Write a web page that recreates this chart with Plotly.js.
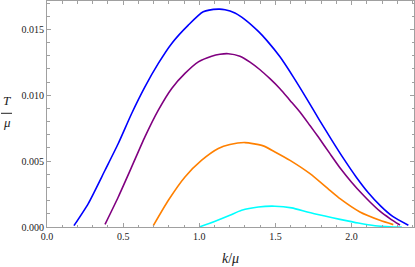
<!DOCTYPE html>
<html>
<head>
<meta charset="utf-8">
<script src="https://cdn.plot.ly/plotly-3.0.1.min.js"></script>
<style>html,body{margin:0;padding:0;background:#fff;}#chart{width:415px;height:267px;}</style>
</head>
<body>
<div id="chart"></div>
<script>
const kBlue = [0.177, 0.271, 0.381, 0.468, 0.556, 0.643, 0.731, 0.819, 0.928, 1.026, 1.125, 1.169, 1.234, 1.300, 1.388, 1.443, 1.530, 1.617, 1.705, 1.790, 1.870, 1.950, 2.030, 2.110, 2.190, 2.270, 2.373];
const tBlue = [0.0001, 0.00178, 0.00431, 0.00634, 0.00862, 0.01064, 0.01242, 0.01394, 0.01533, 0.01634, 0.01654, 0.01650, 0.01625, 0.01575, 0.01485, 0.01417, 0.01292, 0.01140, 0.00975, 0.00810, 0.00660, 0.00515, 0.00380, 0.00260, 0.00160, 0.00080, 0.00013];

const kPurple = [0.381, 0.468, 0.556, 0.643, 0.731, 0.819, 0.906, 0.994, 1.081, 1.136, 1.190, 1.267, 1.333, 1.399, 1.464, 1.530, 1.596, 1.661, 1.727, 1.782, 1.858, 1.930, 2.000, 2.070, 2.121, 2.186, 2.252, 2.318];
const tPurple = [0.0002, 0.00228, 0.00456, 0.00684, 0.00887, 0.01052, 0.01166, 0.01254, 0.01297, 0.01312, 0.01316, 0.01297, 0.01252, 0.01194, 0.01126, 0.01050, 0.00961, 0.00873, 0.00770, 0.00683, 0.00557, 0.00440, 0.00340, 0.00250, 0.00190, 0.00120, 0.00064, 0.00015];

const kOrange = [0.698, 0.797, 0.906, 1.016, 1.125, 1.201, 1.300, 1.420, 1.497, 1.596, 1.727, 1.858, 1.924, 2.055, 2.186, 2.274];
const tOrange = [0.0001, 0.00203, 0.00380, 0.00507, 0.00596, 0.00626, 0.00641, 0.00616, 0.00570, 0.00506, 0.00405, 0.00278, 0.00215, 0.00114, 0.00051, 0.00018];

const kCyan = [1.0, 1.100, 1.201, 1.278, 1.388, 1.497, 1.607, 1.716, 1.825, 1.924, 2.044, 2.154, 2.250, 2.330];
const tCyan = [0.0, 0.00042, 0.00089, 0.00127, 0.00152, 0.00158, 0.00145, 0.00112, 0.00083, 0.00058, 0.00030, 0.00010, 0.00002, 0.0];

const xTicks = [0.0, 0.5, 1.0, 1.5, 2.0];
const yTicks = [0.000, 0.005, 0.010, 0.015];

const seriesX = [kBlue, kPurple, kOrange, kCyan];
const seriesY = [tBlue, tPurple, tOrange, tCyan];
const colors = ['#0000ff', '#800080', '#ff8000', '#00ffff'];

const SERIF = 'Times New Roman, Liberation Serif, Tinos, serif';

const traces = seriesX.map((xs, i) => ({
  x: xs, y: seriesY[i], type: 'scatter', mode: 'lines',
  line: {color: colors[i], width: 1.6, shape: 'spline', smoothing: 0.6},
  hoverinfo: 'skip'
}));

const axisCommon = {
  showgrid: false, zeroline: false, showline: true, linecolor: '#a0a0a0', linewidth: 1,
  mirror: 'allticks', ticks: 'inside', ticklen: 4, tickcolor: '#a0a0a0', tickwidth: 1,
  tickfont: {family: SERIF, size: 10, color: '#222'}
};

const layout = {
  width: 415, height: 267,
  margin: {l: 47, r: 1, t: 1, b: 40},
  paper_bgcolor: '#fff', plot_bgcolor: '#fff',
  showlegend: false,
  font: {family: SERIF},
  xaxis: Object.assign({}, axisCommon, {
    range: [0, 2.41], tickvals: xTicks, tickformat: '.1f',
    minor: {ticks: 'inside', ticklen: 2.5, dtick: 0.1, tick0: 0, tickcolor: '#a0a0a0', tickwidth: 1}
  }),
  yaxis: Object.assign({}, axisCommon, {
    range: [0, 0.01716], tickvals: yTicks, tickformat: '.3f',
    minor: {ticks: 'inside', ticklen: 2.5, dtick: 0.001, tick0: 0, tickcolor: '#a0a0a0', tickwidth: 1}
  }),
  annotations: [
    {xref: 'paper', yref: 'paper', x: (230 - 47) / 367, xanchor: 'center', y: (227 - 258) / 226, yanchor: 'middle',
     text: '<i>k</i>/<i>μ</i>', showarrow: false, font: {family: SERIF, size: 14, color: '#222'}},
    {xref: 'paper', yref: 'paper', x: (6.5 - 47) / 367, xanchor: 'center', y: (227 - 100) / 226, yanchor: 'middle',
     text: '<i>T</i>', showarrow: false, font: {family: SERIF, size: 13, color: '#222'}},
    {xref: 'paper', yref: 'paper', x: (6.5 - 47) / 367, xanchor: 'center', y: (227 - 122) / 226, yanchor: 'middle',
     text: '<i>μ</i>', showarrow: false, font: {family: SERIF, size: 13, color: '#222'}}
  ],
  shapes: [
    {type: 'line', xref: 'paper', yref: 'paper', x0: (1 - 47) / 367, x1: (12 - 47) / 367,
     y0: (227 - 113.3) / 226, y1: (227 - 113.3) / 226, line: {color: '#222', width: 1}}
  ]
};

Plotly.newPlot('chart', traces, layout, {staticPlot: true, displayModeBar: false});
</script>
</body>
</html>
